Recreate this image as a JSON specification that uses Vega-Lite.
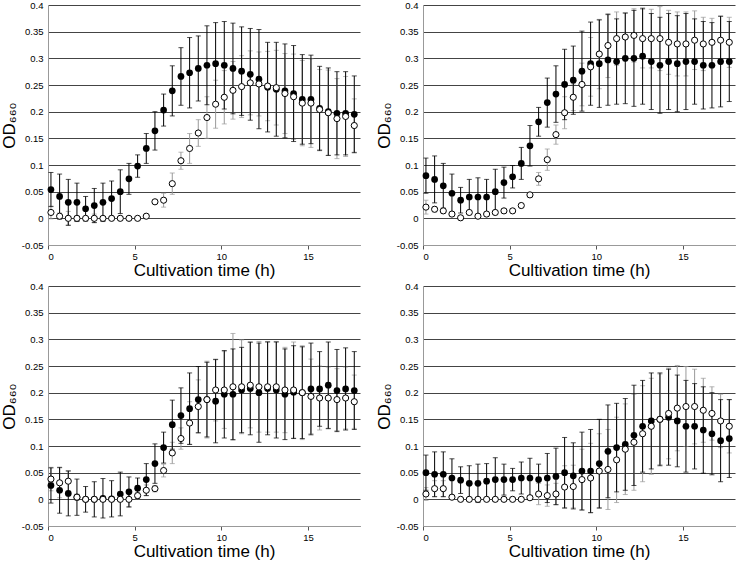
{
"$schema":"https://vega.github.io/schema/vega-lite/v6.json",
"padding":{"left":0,"top":0,"right":5,"bottom":0},
"config":{"font":"Liberation Sans","view":{"stroke":null},
 "axisY":{"grid":true,"gridColor":"#444","gridOpacity":1,"gridWidth":1,"domain":true,"domainColor":"#999","ticks":false,"labelFontSize":9.5,"labelColor":"#000","labelPadding":5,"titleFont":"Liberation Sans, DejaVu Sans","titleFontSize":17,"titleFontWeight":"normal","titleColor":"#000","titlePadding":3,
  "labelExpr":"datum.value < 0 ? '-' + format(-datum.value, '~g') : format(datum.value, '~g')"},
 "axisX":{"grid":false,"domain":true,"domainColor":"#999","ticks":true,"tickSize":4,"tickColor":"#555","labelFontSize":9.5,"labelColor":"#000","labelPadding":2,"titleFontSize":17,"titleFontWeight":"normal","titleColor":"#000","titlePadding":2}
},
"datasets":{"d":[
{"p":"A","s":"f","t":0.17,"v":0.054,"e":0.032},{"p":"A","s":"f","t":0.67,"v":0.041,"e":0.042},{"p":"A","s":"f","t":1.17,"v":0.030,"e":0.043},{"p":"A","s":"f","t":1.67,"v":0.030,"e":0.036},{"p":"A","s":"f","t":2.17,"v":0.018,"e":0.023},{"p":"A","s":"f","t":2.67,"v":0.024,"e":0.032},{"p":"A","s":"f","t":3.17,"v":0.030,"e":0.036},{"p":"A","s":"f","t":3.67,"v":0.037,"e":0.033},{"p":"A","s":"f","t":4.17,"v":0.050,"e":0.041},{"p":"A","s":"f","t":4.67,"v":0.074,"e":0.029},{"p":"A","s":"f","t":5.17,"v":0.098,"e":0.021},{"p":"A","s":"f","t":5.67,"v":0.131,"e":0.028},{"p":"A","s":"f","t":6.17,"v":0.164,"e":0.036},{"p":"A","s":"f","t":6.67,"v":0.203,"e":0.030},{"p":"A","s":"f","t":7.17,"v":0.239,"e":0.047},{"p":"A","s":"f","t":7.67,"v":0.266,"e":0.054},{"p":"A","s":"f","t":8.17,"v":0.273,"e":0.066},{"p":"A","s":"f","t":8.67,"v":0.281,"e":0.061},{"p":"A","s":"f","t":9.17,"v":0.287,"e":0.074},{"p":"A","s":"f","t":9.67,"v":0.290,"e":0.077},{"p":"A","s":"f","t":10.17,"v":0.287,"e":0.082},{"p":"A","s":"f","t":10.67,"v":0.281,"e":0.085},{"p":"A","s":"f","t":11.17,"v":0.276,"e":0.083},{"p":"A","s":"f","t":11.67,"v":0.270,"e":0.086},{"p":"A","s":"f","t":12.17,"v":0.261,"e":0.093},{"p":"A","s":"f","t":12.67,"v":0.246,"e":0.084},{"p":"A","s":"f","t":13.17,"v":0.242,"e":0.088},{"p":"A","s":"f","t":13.67,"v":0.239,"e":0.088},{"p":"A","s":"f","t":14.17,"v":0.234,"e":0.090},{"p":"A","s":"f","t":14.67,"v":0.223,"e":0.084},{"p":"A","s":"f","t":15.17,"v":0.223,"e":0.083},{"p":"A","s":"f","t":15.67,"v":0.206,"e":0.079},{"p":"A","s":"f","t":16.17,"v":0.200,"e":0.082},{"p":"A","s":"f","t":16.67,"v":0.197,"e":0.078},{"p":"A","s":"f","t":17.17,"v":0.197,"e":0.078},{"p":"A","s":"f","t":17.67,"v":0.195,"e":0.072},
{"p":"A","s":"o","t":0.17,"v":0.011,"e":0.012},{"p":"A","s":"o","t":0.67,"v":0.004,"e":0.006},{"p":"A","s":"o","t":1.17,"v":0.000,"e":0.013},{"p":"A","s":"o","t":1.67,"v":0.000,"e":0.005},{"p":"A","s":"o","t":2.17,"v":0.000,"e":0.003},{"p":"A","s":"o","t":2.67,"v":0.000,"e":0.008},{"p":"A","s":"o","t":3.17,"v":0.000,"e":0.003},{"p":"A","s":"o","t":3.67,"v":0.000,"e":0.003},{"p":"A","s":"o","t":4.17,"v":0.000,"e":0.004},{"p":"A","s":"o","t":4.67,"v":0.000,"e":0.003},{"p":"A","s":"o","t":5.17,"v":0.000,"e":0.003},{"p":"A","s":"o","t":5.67,"v":0.004,"e":0.003},{"p":"A","s":"o","t":6.17,"v":0.031,"e":0.003},{"p":"A","s":"o","t":6.67,"v":0.034,"e":0.013},{"p":"A","s":"o","t":7.17,"v":0.065,"e":0.020},{"p":"A","s":"o","t":7.67,"v":0.108,"e":0.016},{"p":"A","s":"o","t":8.17,"v":0.131,"e":0.028},{"p":"A","s":"o","t":8.67,"v":0.160,"e":0.025},{"p":"A","s":"o","t":9.17,"v":0.189,"e":0.039},{"p":"A","s":"o","t":9.67,"v":0.214,"e":0.045},{"p":"A","s":"o","t":10.17,"v":0.227,"e":0.050},{"p":"A","s":"o","t":10.67,"v":0.240,"e":0.054},{"p":"A","s":"o","t":11.17,"v":0.247,"e":0.058},{"p":"A","s":"o","t":11.67,"v":0.254,"e":0.060},{"p":"A","s":"o","t":12.17,"v":0.252,"e":0.060},{"p":"A","s":"o","t":12.67,"v":0.248,"e":0.065},{"p":"A","s":"o","t":13.17,"v":0.245,"e":0.070},{"p":"A","s":"o","t":13.67,"v":0.234,"e":0.075},{"p":"A","s":"o","t":14.17,"v":0.228,"e":0.080},{"p":"A","s":"o","t":14.67,"v":0.216,"e":0.080},{"p":"A","s":"o","t":15.17,"v":0.216,"e":0.083},{"p":"A","s":"o","t":15.67,"v":0.204,"e":0.075},{"p":"A","s":"o","t":16.17,"v":0.198,"e":0.080},{"p":"A","s":"o","t":16.67,"v":0.187,"e":0.075},{"p":"A","s":"o","t":17.17,"v":0.191,"e":0.075},{"p":"A","s":"o","t":17.67,"v":0.174,"e":0.050},
{"p":"B","s":"f","t":0.17,"v":0.080,"e":0.033},{"p":"B","s":"f","t":0.67,"v":0.073,"e":0.044},{"p":"B","s":"f","t":1.17,"v":0.061,"e":0.042},{"p":"B","s":"f","t":1.67,"v":0.047,"e":0.036},{"p":"B","s":"f","t":2.17,"v":0.034,"e":0.024},{"p":"B","s":"f","t":2.67,"v":0.040,"e":0.033},{"p":"B","s":"f","t":3.17,"v":0.040,"e":0.036},{"p":"B","s":"f","t":3.67,"v":0.040,"e":0.033},{"p":"B","s":"f","t":4.17,"v":0.050,"e":0.042},{"p":"B","s":"f","t":4.67,"v":0.067,"e":0.029},{"p":"B","s":"f","t":5.17,"v":0.078,"e":0.021},{"p":"B","s":"f","t":5.67,"v":0.103,"e":0.030},{"p":"B","s":"f","t":6.17,"v":0.136,"e":0.038},{"p":"B","s":"f","t":6.67,"v":0.181,"e":0.027},{"p":"B","s":"f","t":7.17,"v":0.217,"e":0.046},{"p":"B","s":"f","t":7.67,"v":0.233,"e":0.053},{"p":"B","s":"f","t":8.17,"v":0.251,"e":0.066},{"p":"B","s":"f","t":8.67,"v":0.259,"e":0.064},{"p":"B","s":"f","t":9.17,"v":0.276,"e":0.075},{"p":"B","s":"f","t":9.67,"v":0.290,"e":0.078},{"p":"B","s":"f","t":10.17,"v":0.290,"e":0.082},{"p":"B","s":"f","t":10.67,"v":0.297,"e":0.085},{"p":"B","s":"f","t":11.17,"v":0.294,"e":0.080},{"p":"B","s":"f","t":11.67,"v":0.300,"e":0.085},{"p":"B","s":"f","t":12.17,"v":0.300,"e":0.090},{"p":"B","s":"f","t":12.67,"v":0.304,"e":0.090},{"p":"B","s":"f","t":13.17,"v":0.294,"e":0.090},{"p":"B","s":"f","t":13.67,"v":0.287,"e":0.090},{"p":"B","s":"f","t":14.17,"v":0.294,"e":0.090},{"p":"B","s":"f","t":14.67,"v":0.290,"e":0.090},{"p":"B","s":"f","t":15.17,"v":0.294,"e":0.090},{"p":"B","s":"f","t":15.67,"v":0.294,"e":0.080},{"p":"B","s":"f","t":16.17,"v":0.287,"e":0.082},{"p":"B","s":"f","t":16.67,"v":0.287,"e":0.080},{"p":"B","s":"f","t":17.17,"v":0.294,"e":0.085},{"p":"B","s":"f","t":17.67,"v":0.294,"e":0.075},
{"p":"B","s":"o","t":0.17,"v":0.021,"e":0.013},{"p":"B","s":"o","t":0.67,"v":0.017,"e":0.005},{"p":"B","s":"o","t":1.17,"v":0.014,"e":0.005},{"p":"B","s":"o","t":1.67,"v":0.008,"e":0.004},{"p":"B","s":"o","t":2.17,"v":0.001,"e":0.004},{"p":"B","s":"o","t":2.67,"v":0.011,"e":0.004},{"p":"B","s":"o","t":3.17,"v":0.004,"e":0.004},{"p":"B","s":"o","t":3.67,"v":0.008,"e":0.004},{"p":"B","s":"o","t":4.17,"v":0.011,"e":0.004},{"p":"B","s":"o","t":4.67,"v":0.014,"e":0.004},{"p":"B","s":"o","t":5.17,"v":0.014,"e":0.004},{"p":"B","s":"o","t":5.67,"v":0.024,"e":0.004},{"p":"B","s":"o","t":6.17,"v":0.044,"e":0.004},{"p":"B","s":"o","t":6.67,"v":0.074,"e":0.012},{"p":"B","s":"o","t":7.17,"v":0.110,"e":0.020},{"p":"B","s":"o","t":7.67,"v":0.157,"e":0.018},{"p":"B","s":"o","t":8.17,"v":0.198,"e":0.030},{"p":"B","s":"o","t":8.67,"v":0.227,"e":0.025},{"p":"B","s":"o","t":9.17,"v":0.251,"e":0.040},{"p":"B","s":"o","t":9.67,"v":0.284,"e":0.055},{"p":"B","s":"o","t":10.17,"v":0.308,"e":0.065},{"p":"B","s":"o","t":10.67,"v":0.324,"e":0.060},{"p":"B","s":"o","t":11.17,"v":0.337,"e":0.050},{"p":"B","s":"o","t":11.67,"v":0.340,"e":0.045},{"p":"B","s":"o","t":12.17,"v":0.343,"e":0.050},{"p":"B","s":"o","t":12.67,"v":0.337,"e":0.055},{"p":"B","s":"o","t":13.17,"v":0.337,"e":0.055},{"p":"B","s":"o","t":13.67,"v":0.337,"e":0.060},{"p":"B","s":"o","t":14.17,"v":0.330,"e":0.060},{"p":"B","s":"o","t":14.67,"v":0.327,"e":0.060},{"p":"B","s":"o","t":15.17,"v":0.327,"e":0.060},{"p":"B","s":"o","t":15.67,"v":0.334,"e":0.055},{"p":"B","s":"o","t":16.17,"v":0.327,"e":0.050},{"p":"B","s":"o","t":16.67,"v":0.330,"e":0.045},{"p":"B","s":"o","t":17.17,"v":0.334,"e":0.045},{"p":"B","s":"o","t":17.67,"v":0.330,"e":0.047},
{"p":"C","s":"f","t":0.17,"v":0.026,"e":0.033},{"p":"C","s":"f","t":0.67,"v":0.017,"e":0.043},{"p":"C","s":"f","t":1.17,"v":0.011,"e":0.042},{"p":"C","s":"f","t":1.67,"v":0.004,"e":0.034},{"p":"C","s":"f","t":2.17,"v":0.000,"e":0.024},{"p":"C","s":"f","t":2.67,"v":0.000,"e":0.033},{"p":"C","s":"f","t":3.17,"v":0.002,"e":0.037},{"p":"C","s":"f","t":3.67,"v":0.001,"e":0.034},{"p":"C","s":"f","t":4.17,"v":0.010,"e":0.041},{"p":"C","s":"f","t":4.67,"v":0.014,"e":0.028},{"p":"C","s":"f","t":5.17,"v":0.021,"e":0.019},{"p":"C","s":"f","t":5.67,"v":0.037,"e":0.030},{"p":"C","s":"f","t":6.17,"v":0.067,"e":0.037},{"p":"C","s":"f","t":6.67,"v":0.097,"e":0.029},{"p":"C","s":"f","t":7.17,"v":0.140,"e":0.046},{"p":"C","s":"f","t":7.67,"v":0.157,"e":0.052},{"p":"C","s":"f","t":8.17,"v":0.170,"e":0.067},{"p":"C","s":"f","t":8.67,"v":0.187,"e":0.062},{"p":"C","s":"f","t":9.17,"v":0.187,"e":0.070},{"p":"C","s":"f","t":9.67,"v":0.184,"e":0.078},{"p":"C","s":"f","t":10.17,"v":0.197,"e":0.082},{"p":"C","s":"f","t":10.67,"v":0.197,"e":0.085},{"p":"C","s":"f","t":11.17,"v":0.205,"e":0.080},{"p":"C","s":"f","t":11.67,"v":0.208,"e":0.087},{"p":"C","s":"f","t":12.17,"v":0.200,"e":0.093},{"p":"C","s":"f","t":12.67,"v":0.208,"e":0.087},{"p":"C","s":"f","t":13.17,"v":0.205,"e":0.090},{"p":"C","s":"f","t":13.67,"v":0.197,"e":0.085},{"p":"C","s":"f","t":14.17,"v":0.201,"e":0.087},{"p":"C","s":"f","t":14.67,"v":0.200,"e":0.086},{"p":"C","s":"f","t":15.17,"v":0.207,"e":0.086},{"p":"C","s":"f","t":15.67,"v":0.207,"e":0.070},{"p":"C","s":"f","t":16.17,"v":0.214,"e":0.081},{"p":"C","s":"f","t":16.67,"v":0.204,"e":0.077},{"p":"C","s":"f","t":17.17,"v":0.207,"e":0.077},{"p":"C","s":"f","t":17.67,"v":0.204,"e":0.073},
{"p":"C","s":"o","t":0.17,"v":0.038,"e":0.022},{"p":"C","s":"o","t":0.67,"v":0.031,"e":0.028},{"p":"C","s":"o","t":1.17,"v":0.034,"e":0.020},{"p":"C","s":"o","t":1.67,"v":0.004,"e":0.006},{"p":"C","s":"o","t":2.17,"v":0.000,"e":0.004},{"p":"C","s":"o","t":2.67,"v":0.000,"e":0.004},{"p":"C","s":"o","t":3.17,"v":0.000,"e":0.004},{"p":"C","s":"o","t":3.67,"v":0.000,"e":0.004},{"p":"C","s":"o","t":4.17,"v":0.000,"e":0.004},{"p":"C","s":"o","t":4.67,"v":0.000,"e":0.015},{"p":"C","s":"o","t":5.17,"v":0.007,"e":0.006},{"p":"C","s":"o","t":5.67,"v":0.017,"e":0.010},{"p":"C","s":"o","t":6.17,"v":0.020,"e":0.006},{"p":"C","s":"o","t":6.67,"v":0.054,"e":0.012},{"p":"C","s":"o","t":7.17,"v":0.087,"e":0.020},{"p":"C","s":"o","t":7.67,"v":0.114,"e":0.020},{"p":"C","s":"o","t":8.17,"v":0.143,"e":0.040},{"p":"C","s":"o","t":8.67,"v":0.174,"e":0.050},{"p":"C","s":"o","t":9.17,"v":0.187,"e":0.072},{"p":"C","s":"o","t":9.67,"v":0.205,"e":0.058},{"p":"C","s":"o","t":10.17,"v":0.205,"e":0.072},{"p":"C","s":"o","t":10.67,"v":0.211,"e":0.100},{"p":"C","s":"o","t":11.17,"v":0.211,"e":0.088},{"p":"C","s":"o","t":11.67,"v":0.214,"e":0.080},{"p":"C","s":"o","t":12.17,"v":0.211,"e":0.085},{"p":"C","s":"o","t":12.67,"v":0.211,"e":0.085},{"p":"C","s":"o","t":13.17,"v":0.211,"e":0.085},{"p":"C","s":"o","t":13.67,"v":0.205,"e":0.080},{"p":"C","s":"o","t":14.17,"v":0.205,"e":0.090},{"p":"C","s":"o","t":14.67,"v":0.200,"e":0.088},{"p":"C","s":"o","t":15.17,"v":0.193,"e":0.070},{"p":"C","s":"o","t":15.67,"v":0.190,"e":0.060},{"p":"C","s":"o","t":16.17,"v":0.190,"e":0.058},{"p":"C","s":"o","t":16.67,"v":0.187,"e":0.058},{"p":"C","s":"o","t":17.17,"v":0.190,"e":0.058},{"p":"C","s":"o","t":17.67,"v":0.183,"e":0.050},
{"p":"D","s":"f","t":0.17,"v":0.050,"e":0.033},{"p":"D","s":"f","t":0.67,"v":0.047,"e":0.042},{"p":"D","s":"f","t":1.17,"v":0.047,"e":0.042},{"p":"D","s":"f","t":1.67,"v":0.040,"e":0.036},{"p":"D","s":"f","t":2.17,"v":0.036,"e":0.025},{"p":"D","s":"f","t":2.67,"v":0.030,"e":0.033},{"p":"D","s":"f","t":3.17,"v":0.030,"e":0.036},{"p":"D","s":"f","t":3.67,"v":0.034,"e":0.033},{"p":"D","s":"f","t":4.17,"v":0.037,"e":0.041},{"p":"D","s":"f","t":4.67,"v":0.037,"e":0.029},{"p":"D","s":"f","t":5.17,"v":0.037,"e":0.021},{"p":"D","s":"f","t":5.67,"v":0.040,"e":0.030},{"p":"D","s":"f","t":6.17,"v":0.040,"e":0.037},{"p":"D","s":"f","t":6.67,"v":0.037,"e":0.029},{"p":"D","s":"f","t":7.17,"v":0.040,"e":0.046},{"p":"D","s":"f","t":7.67,"v":0.043,"e":0.053},{"p":"D","s":"f","t":8.17,"v":0.050,"e":0.066},{"p":"D","s":"f","t":8.67,"v":0.044,"e":0.062},{"p":"D","s":"f","t":9.17,"v":0.053,"e":0.073},{"p":"D","s":"f","t":9.67,"v":0.053,"e":0.078},{"p":"D","s":"f","t":10.17,"v":0.067,"e":0.083},{"p":"D","s":"f","t":10.67,"v":0.090,"e":0.087},{"p":"D","s":"f","t":11.17,"v":0.097,"e":0.083},{"p":"D","s":"f","t":11.67,"v":0.103,"e":0.086},{"p":"D","s":"f","t":12.17,"v":0.120,"e":0.094},{"p":"D","s":"f","t":12.67,"v":0.137,"e":0.086},{"p":"D","s":"f","t":13.17,"v":0.147,"e":0.090},{"p":"D","s":"f","t":13.67,"v":0.150,"e":0.087},{"p":"D","s":"f","t":14.17,"v":0.154,"e":0.090},{"p":"D","s":"f","t":14.67,"v":0.147,"e":0.086},{"p":"D","s":"f","t":15.17,"v":0.137,"e":0.086},{"p":"D","s":"f","t":15.67,"v":0.137,"e":0.080},{"p":"D","s":"f","t":16.17,"v":0.130,"e":0.081},{"p":"D","s":"f","t":16.67,"v":0.123,"e":0.077},{"p":"D","s":"f","t":17.17,"v":0.110,"e":0.077},{"p":"D","s":"f","t":17.67,"v":0.114,"e":0.073},
{"p":"D","s":"o","t":0.17,"v":0.010,"e":0.012},{"p":"D","s":"o","t":0.67,"v":0.020,"e":0.015},{"p":"D","s":"o","t":1.17,"v":0.020,"e":0.015},{"p":"D","s":"o","t":1.67,"v":0.004,"e":0.004},{"p":"D","s":"o","t":2.17,"v":0.000,"e":0.004},{"p":"D","s":"o","t":2.67,"v":0.000,"e":0.004},{"p":"D","s":"o","t":3.17,"v":0.000,"e":0.004},{"p":"D","s":"o","t":3.67,"v":0.000,"e":0.004},{"p":"D","s":"o","t":4.17,"v":0.000,"e":0.004},{"p":"D","s":"o","t":4.67,"v":0.000,"e":0.004},{"p":"D","s":"o","t":5.17,"v":0.000,"e":0.004},{"p":"D","s":"o","t":5.67,"v":0.000,"e":0.004},{"p":"D","s":"o","t":6.17,"v":0.003,"e":0.004},{"p":"D","s":"o","t":6.67,"v":0.010,"e":0.020},{"p":"D","s":"o","t":7.17,"v":0.007,"e":0.020},{"p":"D","s":"o","t":7.67,"v":0.010,"e":0.020},{"p":"D","s":"o","t":8.17,"v":0.023,"e":0.040},{"p":"D","s":"o","t":8.67,"v":0.024,"e":0.040},{"p":"D","s":"o","t":9.17,"v":0.037,"e":0.057},{"p":"D","s":"o","t":9.67,"v":0.040,"e":0.065},{"p":"D","s":"o","t":10.17,"v":0.053,"e":0.070},{"p":"D","s":"o","t":10.67,"v":0.056,"e":0.075},{"p":"D","s":"o","t":11.17,"v":0.074,"e":0.080},{"p":"D","s":"o","t":11.67,"v":0.094,"e":0.085},{"p":"D","s":"o","t":12.17,"v":0.107,"e":0.090},{"p":"D","s":"o","t":12.67,"v":0.123,"e":0.090},{"p":"D","s":"o","t":13.17,"v":0.137,"e":0.090},{"p":"D","s":"o","t":13.67,"v":0.150,"e":0.085},{"p":"D","s":"o","t":14.17,"v":0.161,"e":0.085},{"p":"D","s":"o","t":14.67,"v":0.171,"e":0.080},{"p":"D","s":"o","t":15.17,"v":0.174,"e":0.075},{"p":"D","s":"o","t":15.67,"v":0.174,"e":0.070},{"p":"D","s":"o","t":16.17,"v":0.167,"e":0.060},{"p":"D","s":"o","t":16.67,"v":0.161,"e":0.050},{"p":"D","s":"o","t":17.17,"v":0.147,"e":0.050},{"p":"D","s":"o","t":17.67,"v":0.137,"e":0.050}
]},
"spacing":2,
"vconcat":[
{"spacing":15,"hconcat":[
{"width":312,"height":240,"data":{"name":"d"},"transform":[{"filter":"datum.p === 'A'"}],
 "encoding":{"x":{"field":"t","type":"quantitative","scale":{"domain":[0,18],"nice":false,"zero":false},"axis":{"values":[0,5,10,15]},"title":"Cultivation time (h)"},
  "y":{"field":"v","type":"quantitative","scale":{"domain":[-0.05,0.4],"nice":false,"zero":false},"axis":{"values":[-0.05,0,0.05,0.1,0.15,0.2,0.25,0.3,0.35,0.4]},"title":"OD₆₆₀"}},
 "layer":[
  {"transform":[{"filter":"datum.s === 'o'"}],"mark":{"type":"errorbar","ticks":{"color":"#999","size":5},"rule":{"color":"#999"}},"encoding":{"yError":{"field":"e"}}},
  {"transform":[{"filter":"datum.s === 'f'"}],"mark":{"type":"errorbar","ticks":{"color":"#000","size":5},"rule":{"color":"#000"}},"encoding":{"yError":{"field":"e"}}},
  {"transform":[{"filter":"datum.s === 'f'"}],"mark":{"type":"point","shape":"circle","filled":true,"color":"#000","size":45,"opacity":1}},
  {"transform":[{"filter":"datum.s === 'o'"}],"mark":{"type":"point","shape":"circle","fill":"#fff","stroke":"#000","strokeWidth":1,"size":38,"opacity":1,"fillOpacity":1}}
 ]},
{"width":312,"height":240,"data":{"name":"d"},"transform":[{"filter":"datum.p === 'B'"}],
 "encoding":{"x":{"field":"t","type":"quantitative","scale":{"domain":[0,18],"nice":false,"zero":false},"axis":{"values":[0,5,10,15]},"title":"Cultivation time (h)"},
  "y":{"field":"v","type":"quantitative","scale":{"domain":[-0.05,0.4],"nice":false,"zero":false},"axis":{"values":[-0.05,0,0.05,0.1,0.15,0.2,0.25,0.3,0.35,0.4]},"title":"OD₆₆₀"}},
 "layer":[
  {"transform":[{"filter":"datum.s === 'o'"}],"mark":{"type":"errorbar","ticks":{"color":"#999","size":5},"rule":{"color":"#999"}},"encoding":{"yError":{"field":"e"}}},
  {"transform":[{"filter":"datum.s === 'f'"}],"mark":{"type":"errorbar","ticks":{"color":"#000","size":5},"rule":{"color":"#000"}},"encoding":{"yError":{"field":"e"}}},
  {"transform":[{"filter":"datum.s === 'f'"}],"mark":{"type":"point","shape":"circle","filled":true,"color":"#000","size":45,"opacity":1}},
  {"transform":[{"filter":"datum.s === 'o'"}],"mark":{"type":"point","shape":"circle","fill":"#fff","stroke":"#000","strokeWidth":1,"size":38,"opacity":1,"fillOpacity":1}}
 ]}
]},
{"spacing":15,"hconcat":[
{"width":312,"height":240,"data":{"name":"d"},"transform":[{"filter":"datum.p === 'C'"}],
 "encoding":{"x":{"field":"t","type":"quantitative","scale":{"domain":[0,18],"nice":false,"zero":false},"axis":{"values":[0,5,10,15]},"title":"Cultivation time (h)"},
  "y":{"field":"v","type":"quantitative","scale":{"domain":[-0.05,0.4],"nice":false,"zero":false},"axis":{"values":[-0.05,0,0.05,0.1,0.15,0.2,0.25,0.3,0.35,0.4]},"title":"OD₆₆₀"}},
 "layer":[
  {"transform":[{"filter":"datum.s === 'o'"}],"mark":{"type":"errorbar","ticks":{"color":"#999","size":5},"rule":{"color":"#999"}},"encoding":{"yError":{"field":"e"}}},
  {"transform":[{"filter":"datum.s === 'f'"}],"mark":{"type":"errorbar","ticks":{"color":"#000","size":5},"rule":{"color":"#000"}},"encoding":{"yError":{"field":"e"}}},
  {"transform":[{"filter":"datum.s === 'f'"}],"mark":{"type":"point","shape":"circle","filled":true,"color":"#000","size":45,"opacity":1}},
  {"transform":[{"filter":"datum.s === 'o'"}],"mark":{"type":"point","shape":"circle","fill":"#fff","stroke":"#000","strokeWidth":1,"size":38,"opacity":1,"fillOpacity":1}}
 ]},
{"width":312,"height":240,"data":{"name":"d"},"transform":[{"filter":"datum.p === 'D'"}],
 "encoding":{"x":{"field":"t","type":"quantitative","scale":{"domain":[0,18],"nice":false,"zero":false},"axis":{"values":[0,5,10,15]},"title":"Cultivation time (h)"},
  "y":{"field":"v","type":"quantitative","scale":{"domain":[-0.05,0.4],"nice":false,"zero":false},"axis":{"values":[-0.05,0,0.05,0.1,0.15,0.2,0.25,0.3,0.35,0.4]},"title":"OD₆₆₀"}},
 "layer":[
  {"transform":[{"filter":"datum.s === 'o'"}],"mark":{"type":"errorbar","ticks":{"color":"#999","size":5},"rule":{"color":"#999"}},"encoding":{"yError":{"field":"e"}}},
  {"transform":[{"filter":"datum.s === 'f'"}],"mark":{"type":"errorbar","ticks":{"color":"#000","size":5},"rule":{"color":"#000"}},"encoding":{"yError":{"field":"e"}}},
  {"transform":[{"filter":"datum.s === 'f'"}],"mark":{"type":"point","shape":"circle","filled":true,"color":"#000","size":45,"opacity":1}},
  {"transform":[{"filter":"datum.s === 'o'"}],"mark":{"type":"point","shape":"circle","fill":"#fff","stroke":"#000","strokeWidth":1,"size":38,"opacity":1,"fillOpacity":1}}
 ]}
]}
]
}
